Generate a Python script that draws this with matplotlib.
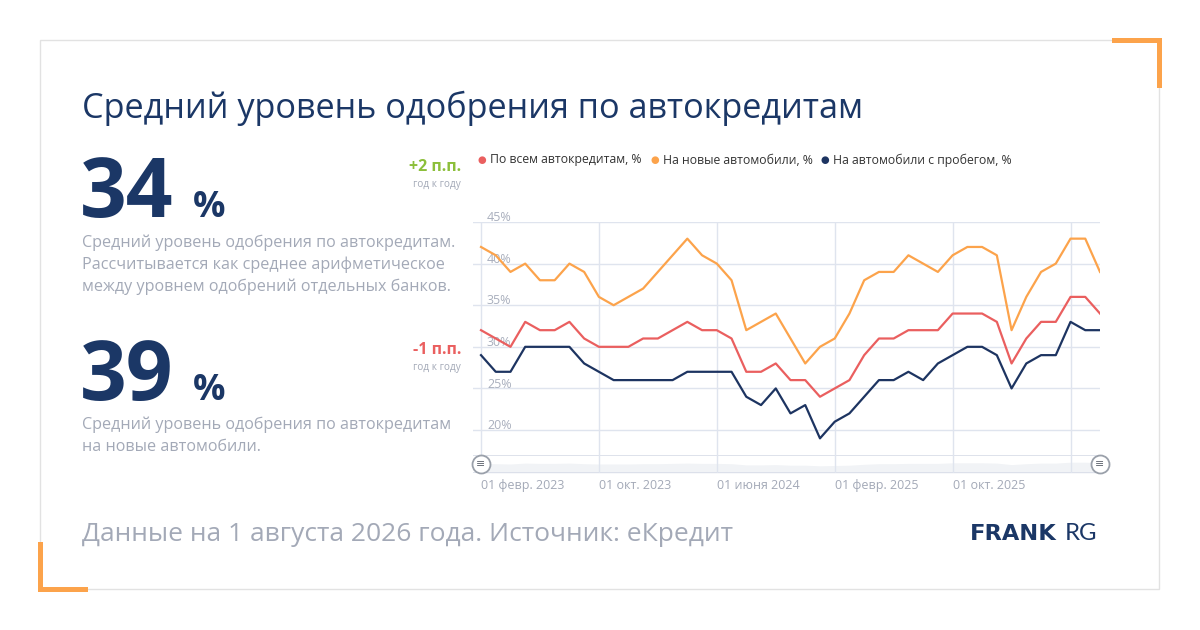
import numpy as np
import matplotlib
matplotlib.use("Agg")
import matplotlib.pyplot as plt
from matplotlib.patches import Rectangle

plt.rcParams['font.family'] = ['Open Sans', 'DejaVu Sans']

# monthly data, Feb 2023 .. Aug 2026
months = np.arange(43)
all_loans = [32, 31, 30, 33, 32, 32, 33, 31, 30, 30, 30, 31, 31, 32, 33, 32, 32, 31,
             27, 27, 28, 26, 26, 24, 25, 26, 29, 31, 31, 32, 32, 32, 34, 34, 34, 33,
             28, 31, 33, 33, 36, 36, 34]
new_cars = [42, 41, 39, 40, 38, 38, 40, 39, 36, 35, 36, 37, 39, 41, 43, 41, 40, 38,
            32, 33, 34, 31, 28, 30, 31, 34, 38, 39, 39, 41, 40, 39, 41, 42, 42, 41,
            32, 36, 39, 40, 43, 43, 39]
used_cars = [29, 27, 27, 30, 30, 30, 30, 28, 27, 26, 26, 26, 26, 26, 27, 27, 27, 27,
             24, 23, 25, 22, 23, 19, 21, 22, 24, 26, 26, 27, 26, 28, 29, 30, 30, 29,
             25, 28, 29, 29, 33, 32, 32]
tick_pos = [0, 8, 16, 24, 32, 40]
tick_labels = ["01 февр. 2023", "01 окт. 2023", "01 июня 2024",
               "01 февр. 2025", "01 окт. 2025", ""]
y_ticks = [20, 25, 30, 35, 40, 45]

desc1 = ["Средний уровень одобрения по автокредитам.",
         "Рассчитывается как среднее арифметическое",
         "между уровнем одобрений отдельных банков."]
desc2 = ["Средний уровень одобрения по автокредитам",
         "на новые автомобили."]

NAVY = "#1b3766"
RED = "#ea5f5f"
ORANGE = "#fca34b"
NAVY_LINE = "#1d3461"
GRAY_TXT = "#a3a9b7"
GRID = "#dfe4ee"

W, H = 1200, 630
fig = plt.figure(figsize=(12, 6.3), dpi=100)
fig.patch.set_facecolor("white")


def fx(x):
    return x / W


def fy(y):
    return 1 - y / H


def pt(px):
    return px * 72 / 100


# card and orange corners
fig.patches.append(Rectangle((fx(40), fy(589)), fx(1119), 549 / H, transform=fig.transFigure,
                             fill=False, edgecolor="#e2e2e2", linewidth=1))
for (x0, y0, w, h) in [(1112, 38, 50, 5), (1157, 38, 5, 50), (38, 542, 5, 50), (38, 587, 50, 5)]:
    fig.patches.append(Rectangle((fx(x0), fy(y0 + h)), w / W, h / H, transform=fig.transFigure,
                                 facecolor=ORANGE, edgecolor="none"))

# title and left side texts
fig.text(fx(82), fy(118), "Средний уровень одобрения по автокредитам", fontsize=pt(34.3),
         color=NAVY, va="baseline", ha="left")

fig.text(fx(80), fy(217), "34", fontsize=pt(82), fontweight="bold", color=NAVY, va="baseline")
fig.text(fx(193), fy(217), "%", fontsize=pt(36), fontweight="bold", color=NAVY, va="baseline")
for i, line in enumerate(desc1):
    fig.text(fx(82), fy(247 + 22 * i), line, fontsize=pt(16.1), color=GRAY_TXT, va="baseline")
fig.text(fx(461), fy(171), "+2 п.п.", fontsize=pt(16), fontweight="bold", color="#8cbf3a",
         ha="right", va="baseline")
fig.text(fx(461), fy(187), "год к году", fontsize=pt(10), color=GRAY_TXT, ha="right", va="baseline")

fig.text(fx(80), fy(400), "39", fontsize=pt(82), fontweight="bold", color=NAVY, va="baseline")
fig.text(fx(193), fy(400), "%", fontsize=pt(36), fontweight="bold", color=NAVY, va="baseline")
for i, line in enumerate(desc2):
    fig.text(fx(82), fy(429 + 22 * i), line, fontsize=pt(16.1), color=GRAY_TXT, va="baseline")
fig.text(fx(461), fy(354), "-1 п.п.", fontsize=pt(16), fontweight="bold", color=RED,
         ha="right", va="baseline")
fig.text(fx(461), fy(370), "год к году", fontsize=pt(10), color=GRAY_TXT, ha="right", va="baseline")

fig.text(fx(82), fy(541), "Данные на 1 августа 2026 года. Источник: еКредит", fontsize=pt(26.4),
         color=GRAY_TXT, va="baseline")
fig.text(fx(970), fy(540), "FRANK", fontsize=pt(22.5), fontweight="bold", color=NAVY,
         va="baseline", family=["DejaVu Sans"])
fig.text(fx(1065), fy(540), "RG", fontsize=pt(24), color=NAVY, va="baseline",
         family=["Lato", "DejaVu Sans"])

# legend
leg = [("По всем автокредитам, %", RED, 482), ("На новые автомобили, %", ORANGE, 655),
       ("На автомобили с пробегом, %", NAVY_LINE, 825)]
for label, c, x in leg:
    fig.text(fx(x), fy(160), "●", fontsize=pt(10), color=c, ha="center", va="center",
             family=["DejaVu Sans"])
    fig.text(fx(x + 8), fy(160), label, fontsize=pt(12.2), color="#333333", va="center")

# main chart
left, right = 473, 1100
x_lo = -8 / 14.74
ax = fig.add_axes([fx(left), fy(455), (right - left) / W, (455 - 222) / H])
ax.set_xlim(x_lo, 42)
ax.set_ylim(17, 45)
for s in ax.spines.values():
    s.set_visible(False)
ax.set_xticks([])
ax.set_yticks([])
for v in y_ticks:
    ax.axhline(v, color=GRID, linewidth=1, zorder=1)
    ax.text(x_lo + 14 / 14.74, v + 0.1, f"{v}%", fontsize=pt(12.5), color="#a9afbd",
            va="baseline", ha="left", zorder=2, clip_on=False)
for t in tick_pos:
    ax.axvline(t, color=GRID, linewidth=1, zorder=1)

ax.plot(months, new_cars, color=ORANGE, linewidth=1.6, zorder=3)
ax.plot(months, all_loans, color=RED, linewidth=1.6, zorder=3)
ax.plot(months, used_cars, color=NAVY_LINE, linewidth=1.6, zorder=3)

# navigator strip
nav = fig.add_axes([fx(left), fy(473), (right - left) / W, 18 / H])
nav.set_xlim(x_lo, 42)
nav.set_ylim(0, 60)
for s in nav.spines.values():
    s.set_visible(False)
nav.axhline(60, color="#d8dde8", linewidth=1.2)
nav.axhline(0, color="#d8dde8", linewidth=1.2)
nav.fill_between(months, 0, all_loans, color="#f1f3f6", linewidth=0)
for t in tick_pos:
    nav.axvline(t, color=GRID, linewidth=1)
nav.set_yticks([])
nav.set_xticks(tick_pos)
nav.set_xticklabels(tick_labels, fontsize=pt(12.5), color=GRAY_TXT, ha="left")
nav.tick_params(axis="x", length=0, pad=4)
for hx in [0, 42]:
    nav.plot([hx], [30], marker="o", markersize=pt(18), markerfacecolor="white",
             markeredgecolor="#9aa0aa", markeredgewidth=1.3, clip_on=False, zorder=5)
    nav.text(hx, 30, "≡", fontsize=pt(11), color="#666b75", ha="center", va="center",
             family=["DejaVu Sans"], zorder=6, clip_on=False)

fig.savefig("out.png", dpi=100, facecolor="white")
